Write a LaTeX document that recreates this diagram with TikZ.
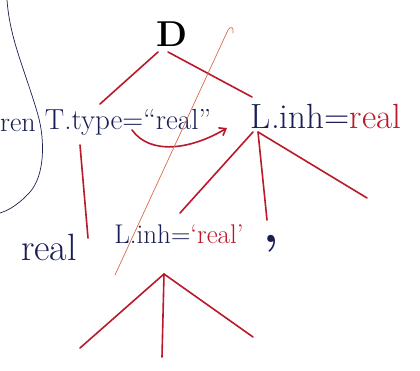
\documentclass[tikz,border=0pt]{standalone}
\usetikzlibrary{arrows.meta}
\definecolor{ink}{RGB}{25,30,85}
\definecolor{pen}{RGB}{185,25,40}
\definecolor{thin}{RGB}{215,110,80}
\begin{document}
\begin{tikzpicture}[x=1pt,y=-1pt,
  lbl/.style={inner sep=0pt,text=ink},
  edge/.style={draw=pen,line width=1.6pt,line cap=round},
  faint/.style={draw=thin,line width=0.7pt,line cap=round}]
\useasboundingbox (0,0) rectangle (420,371);
\fill[white] (0,0) rectangle (420,371);
% labels
\node[lbl,font=\fontsize{36}{38}\selectfont\bfseries,text=black] (D) at (172,34) {D};
\node[lbl,font=\fontsize{28}{30}\selectfont] (ren) at (18,125) {ren};
\node[lbl,font=\fontsize{29}{31}\selectfont] (T) at (128,122) {T.type=“real”};
\node[lbl,font=\fontsize{35}{37}\selectfont] (L1) at (326,116) {L.inh=\textcolor{pen}{real}};
\node[lbl,font=\fontsize{38}{40}\selectfont] (r) at (49,247) {real};
\node[lbl,font=\fontsize{27}{29}\selectfont] (L2) at (179,234) {L.inh=\textcolor{pen}{‘real’}};
\node[lbl,font=\fontsize{50}{52}\selectfont\bfseries] (cm) at (271,244) {,};
% end points
\coordinate (Da) at (158,52);
\coordinate (Db) at (168,52);
\coordinate (Ta) at (100,104);
\coordinate (La) at (252,97);
\coordinate (Tb) at (80,145);
\coordinate (rb) at (88,238);
\coordinate (L1a) at (253,132);
\coordinate (L1b) at (258,132);
\coordinate (c1) at (180,213);
\coordinate (c2) at (267,220);
\coordinate (c3) at (367,198);
\coordinate (L2a) at (164,274);
\coordinate (d1) at (80,348);
\coordinate (d2) at (162,357);
\coordinate (d3) at (253,337);
\coordinate (s1) at (132,130);
\coordinate (s2) at (227,128);
\coordinate (f1) at (228,30);
\coordinate (f2) at (115,275);
% edges
\draw[edge] (Da) -- (Ta);
\draw[edge] (Db) -- (La);
\draw[edge] (Tb) -- (rb);
\draw[edge] (L1a) -- (c1);
\draw[edge] (L1b) -- (c2);
\draw[edge] (L1b) -- (c3);
\draw[edge] (L2a) -- (d1);
\draw[edge] (L2a) -- (d2);
\draw[edge] (L2a) -- (d3);
\draw[edge,-{Straight Barb[length=6pt,width=9pt]}] (s1) .. controls (150,155) and (190,150) .. (s2);
\draw[faint] (f2) -- (f1) .. controls (231,25) and (234,28) .. (233,33);
% bracket
\draw[ink,line width=0.7pt] (7,0) .. controls (10,40) and (25,70) .. (38,115)
  .. controls (45,140) and (45,175) .. (30,192) .. controls (20,203) and (10,210) .. (0,213);
\end{tikzpicture}
\end{document}
